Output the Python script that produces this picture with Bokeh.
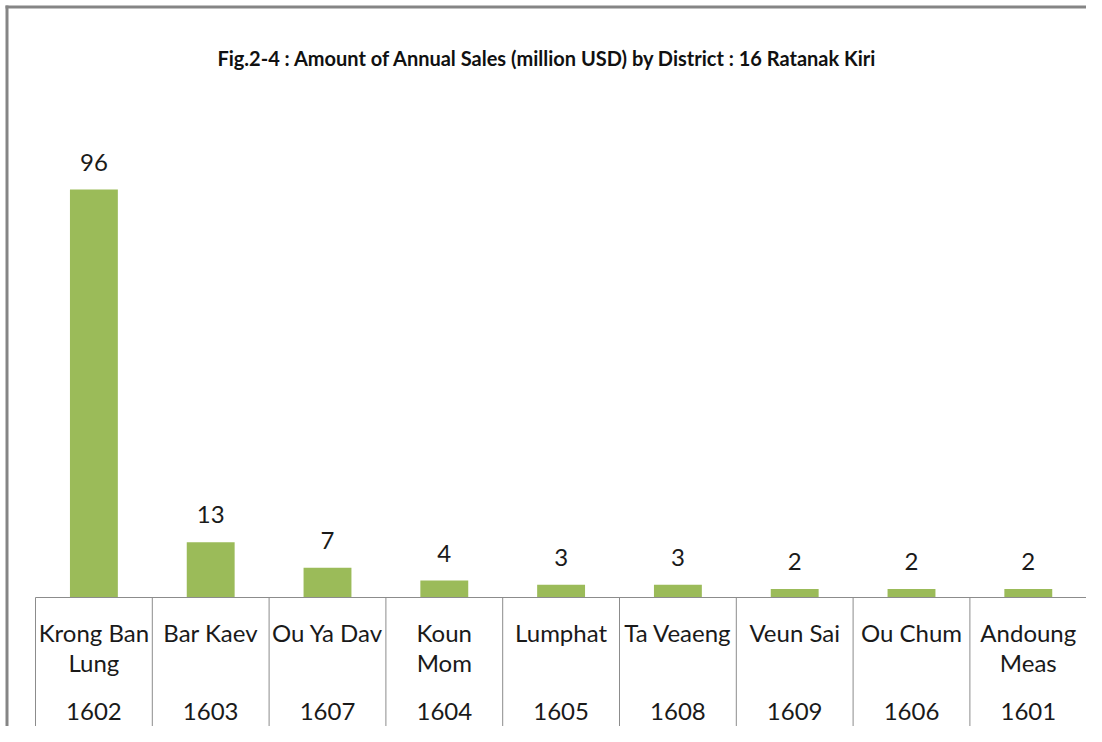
from bokeh.plotting import figure
from bokeh.models import ColumnDataSource, Range1d, LabelSet, BoxAnnotation
from bokeh.core.properties import value
from bokeh.embed import file_html
from bokeh.resources import INLINE

# ---- data ----
districts = ["Krong Ban Lung", "Bar Kaev", "Ou Ya Dav", "Koun Mom", "Lumphat",
             "Ta Veaeng", "Veun Sai", "Ou Chum", "Andoung Meas"]
name_labels = ["Krong Ban\nLung", "Bar Kaev", "Ou Ya Dav", "Koun\nMom", "Lumphat",
               "Ta Veaeng", "Veun Sai", "Ou Chum", "Andoung\nMeas"]
codes = ["1602", "1603", "1607", "1604", "1605", "1608", "1609", "1606", "1601"]
sales = [96, 13, 7, 4, 3, 3, 2, 2, 2]
value_labels = ["96", "13", "7", "4", "3", "3", "2", "2", "2"]

TITLE = "Fig.2-4 : Amount of Annual Sales (million USD) by District : 16 Ratanak Kiri"

# ---- layout constants (pixel geometry of the page) ----
W, H = 1086, 726
CAT_PX = 116.8        # width of one category column in pixels
LEFT_PX = 35          # left edge of the first column
BASE_PX = 597         # zero line
PX_PER_UNIT = 4.25    # pixels per million USD
FONT = "Lato"
GRID = "#8c8c8c"
FRAME = "#858585"
TXT = "#1a1a1a"


def xd(px):
    return (px - LEFT_PX) / CAT_PX


def yd(py):
    return (BASE_PX - py) / PX_PER_UNIT


n = len(districts)
pos = [i + 0.5 for i in range(n)]
edges = list(range(n + 1))

src = ColumnDataSource(dict(x=pos, name=name_labels, code=codes,
                            sales=sales, lab=value_labels))

p = figure(width=W, height=H, x_range=Range1d(xd(0), xd(W)), y_range=Range1d(yd(H), yd(0)),
           output_backend="svg", toolbar_location=None,
           x_axis_location=None, y_axis_location=None,
           min_border_left=0, min_border_right=0, min_border_top=0, min_border_bottom=0)
p.outline_line_color = None
p.xgrid.visible = False
p.ygrid.visible = False
p.background_fill_color = "white"
p.border_fill_color = "white"

# outer chart-area frame (left and top edges)
p.add_layout(BoxAnnotation(left=xd(5), right=xd(8), top=yd(5),
                           fill_color=FRAME, fill_alpha=1, line_color=None))
p.add_layout(BoxAnnotation(left=xd(5), top=yd(5), bottom=yd(8),
                           fill_color=FRAME, fill_alpha=1, line_color=None))

# title
p.text(x=[xd(547)], y=[yd(57)], text=[TITLE], text_align="center", text_baseline="middle",
       text_font=value(FONT), text_font_size="20px", text_font_style="bold",
       text_color="#111111")

# bars
p.vbar(x="x", top="sales", bottom=0, width=0.41, source=src,
       fill_color="#9BBB59", line_color=None)

labels = LabelSet(x="x", y="sales", text="lab", source=src, text_align="center",
                  text_baseline="bottom", y_offset=19, text_font=value(FONT),
                  text_font_size=value("24px"), text_color=TXT)
p.add_layout(labels)

# data table below the bars
p.segment(x0=[edges[0]], y0=[0], x1=[edges[-1]], y1=[0], line_color=GRID, line_width=1)
p.segment(x0=edges, y0=[0] * len(edges), x1=edges, y1=[yd(H)] * len(edges),
          line_color=GRID, line_width=1)

p.text(x="x", y=yd(617), text="name", source=src, text_align="center",
       text_baseline="top", text_font=value(FONT), text_font_size="24px",
       text_line_height=1.04, text_color=TXT)
p.text(x="x", y=yd(711), text="code", source=src, text_align="center",
       text_baseline="middle", text_font=value(FONT), text_font_size="24px",
       text_color=TXT)

open("out.html", "w").write(file_html(p, INLINE))
